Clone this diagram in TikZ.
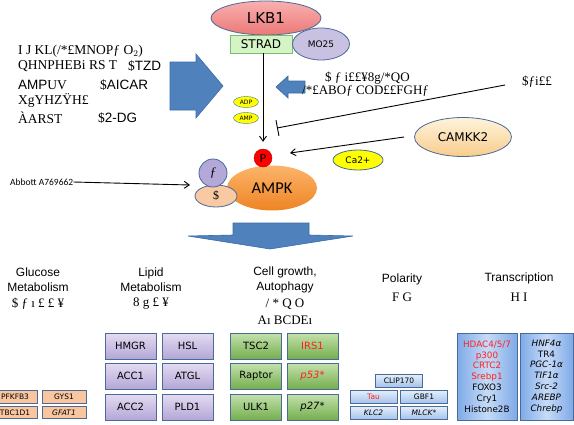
\documentclass[tikz,border=0pt]{standalone}
\usepackage{fontspec}
\setmainfont{DejaVu Sans}
\newfontfamily\garbfont{Liberation Serif}
\newfontfamily\calfont{Carlito}
\newfontfamily\headfont{Liberation Sans}
\usetikzlibrary{arrows.meta, shapes.geometric}
\definecolor{edgeblue}{HTML}{4A6A98}
\definecolor{arrowblue}{HTML}{4F81BD}
\definecolor{arrowedge}{HTML}{3B6BA5}
\definecolor{lkbtop}{HTML}{F8B0B0}
\definecolor{lkbbot}{HTML}{EC7878}
\definecolor{stradfill}{HTML}{D4F4C6}
\definecolor{stradedge}{HTML}{7DBE6E}
\definecolor{mofill}{HTML}{C9C1E1}
\definecolor{nucyellow}{HTML}{FFFF00}
\definecolor{ampktop}{HTML}{FBB46A}
\definecolor{ampkbot}{HTML}{EE8424}
\definecolor{gamfill}{HTML}{B3A8D8}
\definecolor{betfill}{HTML}{F8C9A2}
\definecolor{camtop}{HTML}{FEF3DC}
\definecolor{cambot}{HTML}{F8CD8C}
\definecolor{peach}{HTML}{F9C6A0}
\definecolor{lavtop}{HTML}{E4DCF2}
\definecolor{lavbot}{HTML}{B4A6D6}
\definecolor{grntop}{HTML}{C4E2AC}
\definecolor{grnbot}{HTML}{74AE4E}
\definecolor{poltop}{HTML}{E6F0FA}
\definecolor{polbot}{HTML}{A6C4EC}
\definecolor{trside}{HTML}{7FAAE8}
\definecolor{trmid}{HTML}{C6DBF7}
\definecolor{hitred}{HTML}{FF2020}
\newcommand{\fsz}[1]{\fontsize{#1}{#1}\selectfont}

\begin{document}
\begin{tikzpicture}[x=1pt, y=-1pt,
    protein/.style={ellipse, draw=edgeblue, line width=0.8pt, inner sep=0pt},
    nucl/.style={ellipse, draw=edgeblue, fill=nucyellow, inner sep=0pt, minimum width=25pt, minimum height=11pt, font=\fsz{6}},
    tgt/.style={draw=edgeblue, line width=0.8pt, inner sep=0pt},
    glubox/.style={tgt, fill=peach, minimum width=44pt, minimum height=12.5pt, font=\fsz{7.5}},
    lipbox/.style={tgt, top color=lavtop, bottom color=lavbot, minimum width=51pt, minimum height=26pt, font=\fsz{10}},
    growbox/.style={tgt, top color=grntop, bottom color=grnbot, minimum width=51pt, minimum height=26pt, font=\fsz{10}},
    polbox/.style={tgt, top color=poltop, bottom color=polbot, minimum width=47pt, minimum height=13pt, font=\fsz{7.5}},
    trbox/.style={tgt, left color=trside, right color=trside, middle color=trmid, minimum height=87pt, align=center, font=\fontsize{8.8}{10.8}\selectfont},
    head/.style={inner sep=0pt, align=center, font=\headfont\fontsize{12}{15}\selectfont},
    garb/.style={inner sep=0pt, font=\garbfont\fsz{13}},
    drug/.style={inner sep=0pt, anchor=west, font=\headfont\fsz{13.5}},
    blockarrow/.style={fill=arrowblue, draw=arrowedge, line width=0.6pt},
    lead/.style={-{Straight Barb[length=5pt,width=7pt]}, line width=0.9pt},
]
\useasboundingbox (0,0) rectangle (574,424);

% upstream kinase complex
\node[protein, top color=lkbtop, bottom color=lkbbot, minimum width=110pt, minimum height=34pt, font=\fsz{15}] (lkb) at (266,18) {LKB1};
\node[draw=stradedge, fill=stradfill, line width=0.8pt, minimum width=62pt, minimum height=18pt, inner sep=0pt, font=\fsz{12}] (strad) at (261,44) {STRAD};
\node[protein, fill=mofill, minimum width=57pt, minimum height=32pt, font=\fsz{9}] (mo) at (321,44) {MO25};

% drugs on the left
\node[garb, anchor=west, font=\garbfont\fsz{13.5}] (g1) at (18,51) {I J KL(/*£MNOPƒ O$_2$)};
\node[garb, anchor=west, font=\garbfont\fsz{13.5}] (g2) at (18,66) {QHNPHEBi RS T};
\node[drug] (tzd) at (128,66) {{\garbfont\$}TZD};
\node[garb, anchor=west, font=\garbfont\fsz{13.5}] (g3) at (18,85) {{\headfont\fsz{13.5}AMP}UV};
\node[drug] (aicar) at (100,85) {{\garbfont\$}AICAR};
\node[garb, anchor=west, font=\garbfont\fsz{13.5}] (g4) at (18,100) {XgYHZŸH£};
\node[garb, anchor=west, font=\garbfont\fsz{13.5}] (g5) at (18,118) {ÀARST};
\node[drug] (dg) at (98,118) {{\garbfont\$}2-DG};

% block arrows
\draw[blockarrow] (170,62) -- (196,62) -- (196,54) -- (223,86) -- (196,118) -- (196,110) -- (170,110) -- cycle;
\draw[blockarrow] (305,81) -- (288,81) -- (288,76) -- (276,87) -- (288,98) -- (288,93) -- (305,93) -- cycle;
\draw[blockarrow] (233,223) -- (309,223) -- (309,235) -- (353,236) -- (270,249) -- (188,236) -- (233,235) -- cycle;

\node[garb, anchor=west] (r1) at (325,78) {\$ ƒ i££¥8g/*QO};
\node[garb, anchor=west] (r2) at (302,91) {/*£ABOƒ COD££FGHƒ};
\node[garb, anchor=west] (cff) at (522,82) {\$ƒi££};

\node[nucl] (adp) at (246,102) {ADP};
\node[nucl] (amp) at (246,118) {AMP};

% AMPK with its subunits
\node[protein, draw=none, top color=ampktop, bottom color=ampkbot, minimum width=90pt, minimum height=45pt, font=\calfont\fsz{16.5}] (ampk) at (272,188) {AMPK};
\node[protein, fill=betfill, minimum width=42pt, minimum height=22pt, font=\garbfont\fsz{12}] (bet) at (216,196) {\$};
\node[circle, draw=edgeblue, line width=0.8pt, fill=gamfill, minimum size=28pt, inner sep=0pt, font=\garbfont\itshape\fsz{13}] (gam) at (213,173) {ƒ};
\node[circle, draw=red!70!black, fill=red, minimum size=18pt, inner sep=0pt, font=\fsz{11}] (pho) at (263,158) {P};

\node[protein, top color=camtop, bottom color=cambot, minimum width=97pt, minimum height=39pt, font=\fsz{12}] (camkk) at (463,137) {CAMKK2};
\node[protein, fill=nucyellow, minimum width=50pt, minimum height=20pt, font=\fsz{9}] (ca) at (358,160) {Ca2+};
\node[inner sep=0pt, anchor=west, font=\calfont\fsz{9.5}] (abbott) at (10,182) {Abbott A769662};

\coordinate (inhend) at (277,128);
\coordinate (camend) at (290,153);
\coordinate (abend) at (190,185);
\draw[lead] (strad.south -| pho) -- ([yshift=7pt]pho.north);
\draw[-{Bar[width=16pt]}, line width=0.9pt] ([shift={(-17pt,-3pt)}]cff.west) -- (inhend);
\draw[lead] ([xshift=-10pt]camkk.west) -- (camend);
\draw[lead] (abbott.east) -- (abend);

% downstream categories
\node[head] (gluc) at (38,279.5) {Glucose\\Metabolism};
\node[garb] (glucg) at (38,304) {\$ ƒ ı £ £ ¥};
\node[head] (lipid) at (151,279.5) {Lipid\\Metabolism};
\node[garb] (lipidg) at (151,304) {8 g £ ¥};
\node[head] (grow) at (285,279.5) {Cell growth,\\Autophagy};
\node[garb] (growg) at (285,304) {/ * Q O};
\node[garb] (growh) at (285,320) {Aı BCDEı};
\node[head] (pol) at (402,279) {Polarity};
\node[garb] (polg) at (402,297) {F G};
\node[head] (trans) at (519,278) {Transcription};
\node[garb] (transg) at (519,297) {H I};

% targets
\node[glubox] (pfk) at (15,397) {PFKFB3};
\node[glubox] (gys) at (64,397) {GYS1};
\node[glubox] (tbc) at (15,412.5) {TBC1D1};
\node[glubox] (gfat) at (64,412.5) {\itshape GFAT1};

\node[lipbox] (hmgr) at (130.5,346) {HMGR};
\node[lipbox] (hsl) at (187.5,346) {HSL};
\node[lipbox] (acca) at (130.5,376) {ACC1};
\node[lipbox] (atgl) at (187.5,376) {ATGL};
\node[lipbox] (accb) at (130.5,407) {ACC2};
\node[lipbox] (pld) at (187.5,407) {PLD1};

\node[growbox] (tsc) at (256,346) {TSC2};
\node[growbox, text=hitred] (irs) at (312.5,346) {IRS1};
\node[growbox] (rap) at (256,376) {Raptor};
\node[growbox, text=hitred] (pft) at (312.5,376) {\itshape p53*};
\node[growbox] (ulk) at (256,407) {ULK1};
\node[growbox] (pts) at (312.5,407) {\itshape p27*};

\node[polbox] (clip) at (399,380.5) {CLIP170};
\node[polbox, text=hitred] (tau) at (373.5,396.5) {Tau};
\node[polbox] (gbf) at (424,396.5) {GBF1};
\node[polbox] (klc) at (373.5,412.5) {\itshape KLC2};
\node[polbox] (mlck) at (424,412.5) {\itshape MLCK*};

\node[trbox, minimum width=60pt] (trl) at (487,376.5) {\textcolor{hitred}{HDAC4/5/7}\\\textcolor{hitred}{p300}\\\textcolor{hitred}{CRTC2}\\\textcolor{hitred}{Srebp1}\\FOXO3\\Cry1\\Histone2B};
\node[trbox, minimum width=53pt, font=\fontsize{8.8}{10.8}\selectfont\itshape] (trr) at (546.5,376.5) {HNF4α\\{\upshape TR4}\\PGC-1α\\TIF1α\\Src-2\\AREBP\\Chrebp};
\end{tikzpicture}
\end{document}
